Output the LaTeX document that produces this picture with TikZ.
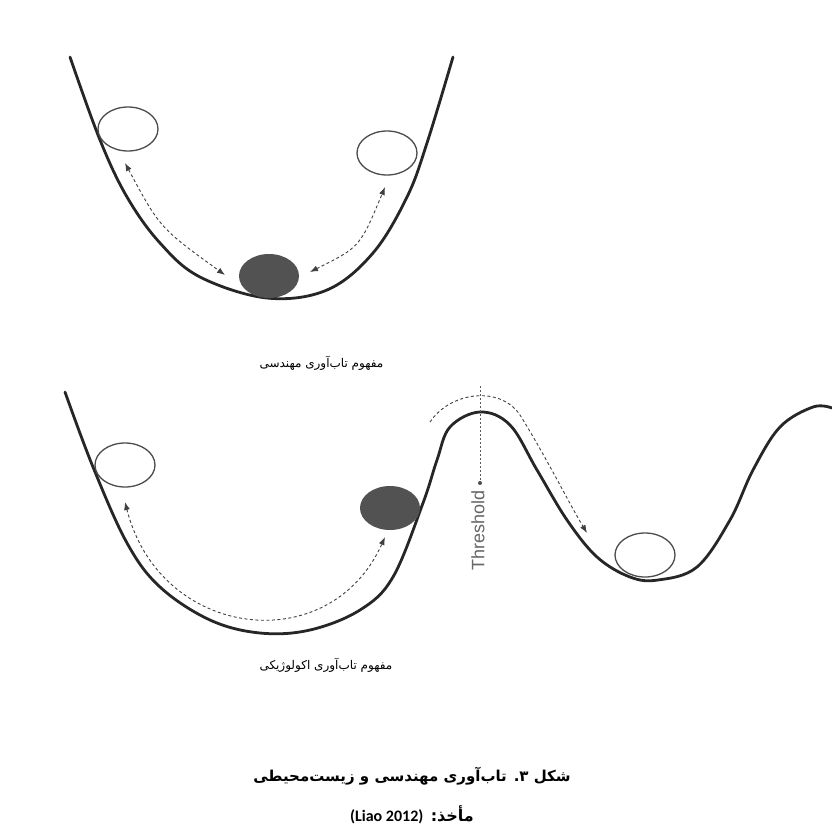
\documentclass[tikz,border=0pt]{standalone}
\usepackage{fontspec}
\setsansfont{Liberation Sans}
\newfontfamily\farsi[Script=Arabic]{DejaVu Sans}
\newfontfamily\carlito{Carlito}
\TeXXeTstate=1
\usetikzlibrary{arrows.meta,shapes.geometric}

\tikzset{
  valley/.style={draw=black!85, line width=2.8pt, line cap=round},
  hole/.style={ellipse, draw=black!70, line width=1.3pt, minimum width=60pt, minimum height=44pt, inner sep=0pt},
  ball/.style={ellipse, fill=black!68, minimum width=60pt, minimum height=44pt, inner sep=0pt},
  move/.style={draw=black!75, line width=0.9pt, dash pattern=on 3pt off 2.5pt},
  tip/.style={-{Latex[length=8pt,width=6pt]}},
  tips/.style={{Latex[length=8pt,width=6pt]}-{Latex[length=8pt,width=6pt]}},
  caption/.style={font=\farsi\fontsize{12}{14}\selectfont, anchor=west}
}

\begin{document}
\begin{tikzpicture}[x=1pt,y=-1pt]
  \useasboundingbox (0,0) rectangle (832,832);
  \fill[white] (0,0) rectangle (832,832);

  \draw[valley] plot[smooth, tension=0.6] coordinates {(70,57) (100,140) (127,197) (160,243) (200,277) (267,298) (327,290) (373,253) (407,197) (427,143) (453,57)};

  \node[hole] (eL) at (128,129) {};
  \node[hole] (eR) at (387,153) {};
  \node[ball] (eB) at (269,276) {};

  \coordinate (eL1) at (125,163);
  \coordinate (eB1) at (225,275);
  \coordinate (eB2) at (310,272);
  \coordinate (eR1) at (385,187);

  \draw[move, tips] (eL1) .. controls (160,228) .. (eB1);
  \draw[move, tips] (eB2) .. controls (360,247) .. (eR1);

  \node[caption] (n1) at (256,363) {\beginR مفهوم تاب‌آوری مهندسی\endR};

  \draw[valley] plot[smooth, tension=0.6] coordinates {(65,392) (93,467) (127,543) (160,587) (210,620) (260,633) (310,630) (360,610) (393,577) (423,503) (437,460) (450,427) (480,412) (510,425) (537,470) (567,520) (597,557) (630,577) (658,580) (697,567) (730,520) (753,470) (780,427) (813,407) (832,408)};

  \node[hole] (cL) at (125,465) {};
  \node[ball] (cB) at (390,508) {};
  \node[hole] (cR) at (645,555) {};

  \coordinate (cL1) at (125,502);
  \coordinate (cB1) at (385,537);
  \coordinate (p0) at (430,422);
  \coordinate (p1) at (587,533);

  \draw[move, tips] (cL1) .. controls (160,640) and (330,660) .. (cB1);
  \draw[move, tip] (p0) .. controls (450,392) and (500,385) .. (520,415) .. controls (545,455) and (570,505) .. (p1);

  \coordinate (tt) at (480,386);
  \node[circle, fill=black!70, inner sep=0pt, minimum size=4pt] (td) at (480,483) {};
  \draw[black!65, line width=1pt, dash pattern=on 1.5pt off 2.5pt] (tt) -- (td);
  \node[rotate=90, font=\sffamily\fontsize{18}{18}\selectfont, text=black!60] (thr) at (478,530) {Threshold};

  \node[caption] (n2) at (256,665) {\beginR مفهوم تاب‌آوری اکولوژیکی\endR};

  \node[font=\farsi\bfseries\fontsize{15}{18}\selectfont] (t) at (412,776) {\beginR شکل ۳. تاب‌آوری مهندسی و زیست‌محیطی\endR};
  \node[font=\farsi\bfseries\fontsize{16}{18}\selectfont] (s) at (412,815) {\beginR مأخذ: \beginL{\carlito\bfseries(Liao 2012)}\endL\endR};
\end{tikzpicture}
\end{document}
